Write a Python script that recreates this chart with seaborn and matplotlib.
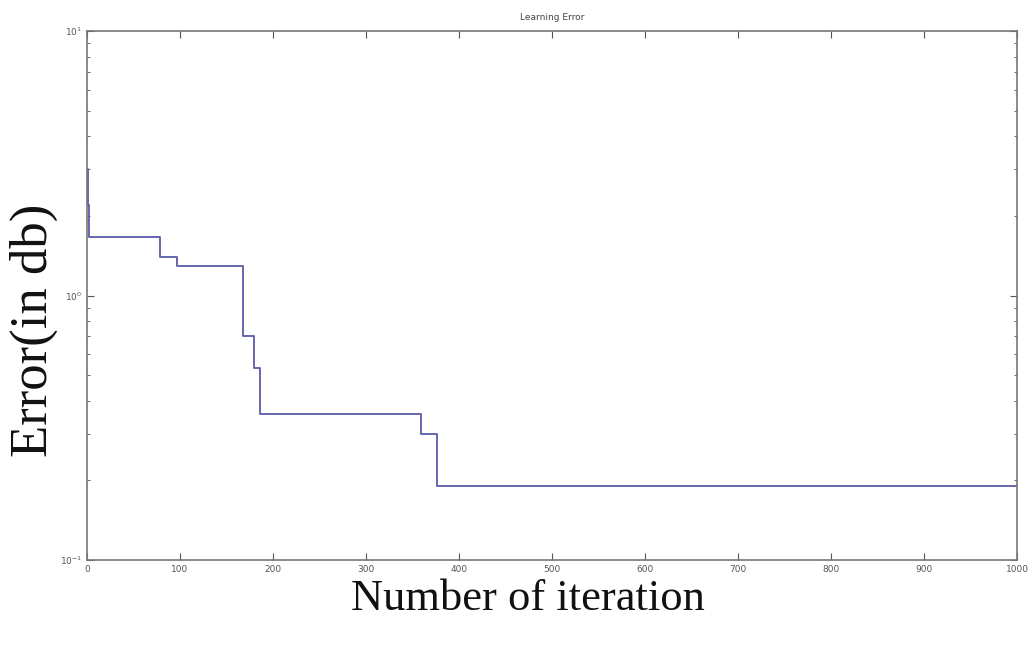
import matplotlib
matplotlib.use("Agg")
import matplotlib.pyplot as plt
import seaborn as sns
import pandas as pd
import numpy as np

iterations = [0, 1, 2, 78, 97, 165, 168, 180, 184, 186, 359, 376, 1000]
errors = [3.0, 2.2, 1.66, 1.40, 1.29, 1.29, 0.70, 0.53, 0.53, 0.356, 0.299, 0.19, 0.19]
x_ticks = [0, 100, 200, 300, 400, 500, 600, 700, 800, 900, 1000]

df = pd.DataFrame({"iteration": iterations, "error": errors})

sns.set_style("white")
fig = plt.figure(figsize=(10.34, 6.46), dpi=100)
ax = fig.add_axes([0.0841, 0.1331, 0.8995, 0.8189])
sns.lineplot(data=df, x="iteration", y="error", ax=ax, color="#5a5aa8",
             linewidth=1.3, drawstyle="steps-post", estimator=None)
ax.set_yscale("log")
ax.set_xlim(0, 1000)
ax.set_ylim(0.1, 10)
ax.set_xticks(x_ticks)
ax.set_xticklabels([str(t) for t in x_ticks])
ax.tick_params(axis="both", which="both", direction="in", top=True, right=True,
               left=True, bottom=True,
               labelsize=6.5, labelcolor="#555555", color="#555555")
ax.tick_params(which="major", length=5)
ax.tick_params(which="minor", length=2.5)
for s in ax.spines.values():
    s.set_color("#777777")
    s.set_linewidth(1.2)
ax.set_title("Learning Error", fontsize=6.5, color="#444444", pad=8)
ax.set_xlabel("Number of iteration", fontsize=32, family="Liberation Serif",
              color="#111111")
ax.set_ylabel("Error(in db)", fontsize=38, family="Liberation Serif",
              color="#111111")
ax.xaxis.set_label_coords(0.474, -0.036)
ax.yaxis.set_label_coords(-0.031, 0.435)
fig.savefig("out.png", dpi=100)
